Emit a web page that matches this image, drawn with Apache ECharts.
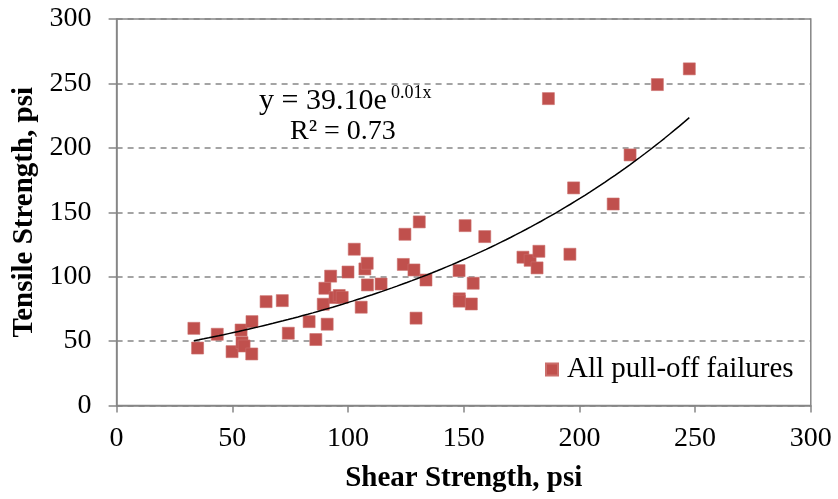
<!DOCTYPE html>
<html>
<head>
<meta charset="utf-8">
<script src="https://cdn.jsdelivr.net/npm/echarts@6/dist/echarts.min.js"></script>
<style>html,body{margin:0;padding:0;background:#fff;}#c{width:838px;height:499px;}</style>
</head>
<body>
<div id="c"></div>
<script>
const seriesName = "All pull-off failures";
const shearStrength = [33.4,35.0,43.5,49.9,53.8,54.2,55.1,58.4,58.5,64.6,71.6,74.2,83.2,86.1,90.0,89.3,91.0,92.5,94.4,96.2,97.5,100.0,102.7,105.7,107.3,108.3,108.4,114.3,123.9,124.6,128.5,129.4,130.8,133.7,148.0,148.1,148.1,150.6,153.3,154.1,159.1,175.6,178.7,182.5,181.7,186.6,195.9,197.5,214.6,221.9,233.7,247.5];
const tensileStrength = [59.9,44.6,55.3,41.8,58.6,48.8,46.2,40.0,65.1,80.6,81.4,56.1,65.1,51.2,91.0,78.6,63.1,100.4,83.8,85.4,83.9,103.6,121.3,76.3,106.0,110.4,93.6,94.3,109.5,132.9,105.2,67.8,142.5,97.4,104.7,82.8,81.0,139.6,78.8,94.9,131.1,115.1,112.7,119.7,106.8,238.2,117.4,168.9,156.4,194.5,249.1,261.3];
const xTicks = [0,50,100,150,200,250,300];
const yTicks = [0,50,100,150,200,250,300];
const equationMain = "y = 39.10e";
const equationSup = "0.01x";
const rSquaredText = "R² = 0.73";

const points = shearStrength.map((x,i)=>[x,tensileStrength[i]]);

// Exponential trendline via least squares on ln(y) (as spreadsheet trendlines do)
const n = points.length;
let sx=0, sy=0, sxx=0, sxy=0;
points.forEach(([x,y])=>{const ly=Math.log(y); sx+=x; sy+=ly; sxx+=x*x; sxy+=x*ly;});
const b = (n*sxy - sx*sy)/(n*sxx - sx*sx);
const a = Math.exp((sy - b*sx)/n);
const xmin = Math.min(...shearStrength), xmax = Math.max(...shearStrength);
const trend = [];
for(let i=0;i<=100;i++){const x = xmin + (xmax-xmin)*i/100; trend.push([x, a*Math.exp(b*x)]);}

const font = "'Liberation Serif','Times New Roman',serif";
const FS = 28;
const chart = echarts.init(document.getElementById('c'));
chart.setOption({
  animation:false,
  backgroundColor:'#fff',
  grid:{left:116.6, right:27.2, top:19, bottom:93.5, show:true, borderColor:'#868686', borderWidth:1.5, backgroundColor:'transparent'},
  xAxis:{type:'value', min:xTicks[0], max:xTicks[xTicks.length-1], interval:50,
    name:'Shear Strength, psi', nameLocation:'middle', nameGap:59,
    nameTextStyle:{fontFamily:font, fontSize:29, fontWeight:'bold', color:'#000'},
    axisLine:{show:true, lineStyle:{color:'#868686', width:1.5}},
    axisTick:{show:true, inside:false, length:7, lineStyle:{color:'#868686', width:1.5}},
    axisLabel:{fontFamily:font, fontSize:FS, color:'#000', margin:19},
    splitLine:{show:false}},
  yAxis:{type:'value', min:yTicks[0], max:yTicks[yTicks.length-1], interval:50,
    name:'Tensile Strength, psi', nameLocation:'middle', nameGap:74,
    nameTextStyle:{fontFamily:font, fontSize:29, fontWeight:'bold', color:'#000'},
    axisLine:{show:true, lineStyle:{color:'#868686', width:1.5}},
    axisTick:{show:true, inside:false, length:8, lineStyle:{color:'#868686', width:1.5}},
    axisLabel:{fontFamily:font, fontSize:FS, color:'#000', margin:25},
    splitLine:{show:true, lineStyle:{color:'#868686', width:1.5, type:[6,5]}}},
  legend:{show:true, left:545, top:355, itemWidth:12, itemHeight:12, padding:0,
    data:[{name:seriesName, icon:'rect'}],
    textStyle:{fontFamily:font, fontSize:29, color:'#000', padding:[0,0,0,4]}},
  series:[
    {name:seriesName, type:'scatter', data:points, symbol:'rect', symbolSize:12,
     itemStyle:{color:'#C0504D', opacity:1, borderColor:'#CB6E6B', borderWidth:0.6}, z:3},
    {name:'trend', type:'line', data:trend, showSymbol:false, symbol:'none', smooth:false,
     lineStyle:{color:'#000', width:1.5}, z:4, silent:true}
  ],
  graphic:[
    {type:'text', x:259, y:101, style:{text:equationMain, font:"30px "+font, fill:'#000', verticalAlign:'middle'}},
    {type:'text', x:391, y:93, style:{text:equationSup, font:"18px "+font, fill:'#000', verticalAlign:'middle'}},
    {type:'text', x:290, y:132, style:{text:rSquaredText, font:FS+"px "+font, fill:'#000', verticalAlign:'middle'}}
  ]
});
</script>
</body>
</html>
